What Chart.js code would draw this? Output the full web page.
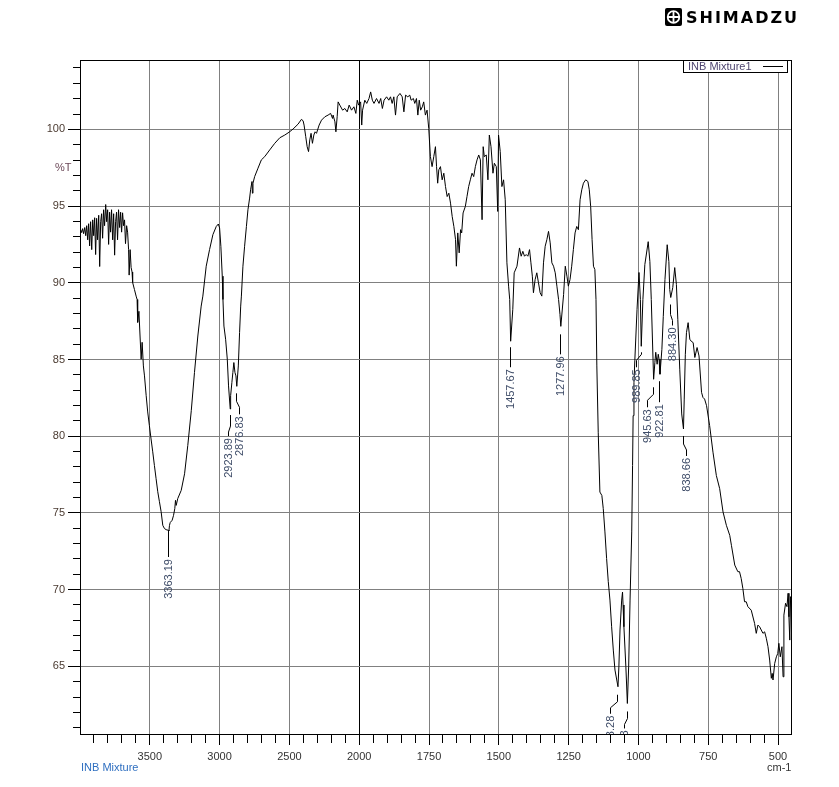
<!DOCTYPE html>
<html>
<head>
<meta charset="utf-8">
<script src="https://cdn.jsdelivr.net/npm/chart.js@4.4.0/dist/chart.umd.min.js"></script>
<style>
  body { margin: 0; background: #fff; width: 839px; height: 787px; position: relative; overflow: hidden; font-family: "Liberation Sans", Arial, sans-serif; }
  canvas { position: absolute; left: 0; top: 0; }
  .t { position: absolute; font-size: 11px; line-height: 13px; white-space: nowrap; }
  #brand { position: absolute; left: 686px; top: 10px; font: bold 16px/16px "DejaVu Sans", sans-serif; letter-spacing: 2px; color: #000; }
  #mark { position: absolute; left: 665px; top: 8px; }
</style>
</head>
<body>
<canvas id="ir" width="839" height="787"></canvas>
<svg id="mark" width="17" height="18" viewBox="0 0 17 18">
  <rect x="0" y="0" width="17" height="18" rx="2" fill="#000"/>
  <circle cx="8.5" cy="9" r="5.8" fill="none" stroke="#fff" stroke-width="1.8"/>
  <path d="M8.5 3.2v11.6M2.7 9h11.6" stroke="#fff" stroke-width="1.8"/>
</svg>
<div id="brand">SHIMADZU</div>
<div class="t" style="left:55px;top:161px;color:#6d4a5a">%T</div>
<div class="t" style="left:81px;top:761px;color:#2f6fc0">INB Mixture</div>
<div class="t" style="left:767px;top:761px;color:#333">cm-1</div>
<script>
// spectrum (cm-1 / %T)
const wavenumbers = [
  4000,3995,3988,3981,3974,3966,3959,3952,3945,3938,3931,3924,3916,3909,3902,3895,3888,3881,3874,3866,
  3859,3852,3845,3838,3831,3824,3816,3809,3802,3795,3788,3781,3774,3766,3759,3752,3745,3738,3731,3724,
  3716,3709,3702,3695,3688,3681,3674,3666,3659,3652,3648,3641,3634,3627,
  3623,3610,3598,3591,3587,3578,3570,3562,3555,3546,3538,3526,3515,3503,3491,3479,3467,3455,3443,3431,
  3419,3407,3395,3383,3369,3363.19,3359,3354,3340,3330,3321,3316,3311,3300,3275,3251,3228,3203,3180,3156,
  3132,3120,3096,3072,3048,3024,3009,3000,2991,2981,2976,2969,2957,2945,2936,2923.89,2921,2912,2905,2898,
  2890,2883,2876.83,2866,2857,2849,2844,2833,2821,2808,2797,2785,2778,2768,2765,2761,2749,2725,2701,2677,
  2641,2605,2569,2533,2503,2474,2438,2414,2402,2395,2383,2373,2363,2354,2345,2335,2325,2316,2306,2287,
  2270,2246,2223,2205,2191,2187,2174,2167,2158,2151,2139,2119,2103,2086,2072,2055,2038,2024,2014,2004,
  1995,1991,1988,1980,1973,1965,1959,1953,1947,1938,1929,1923,1917,1911,1902,1894,1888,1882,1876,1870,
  1864,1854,1846,1840,1834,1826,1819,1814,1806,1801,1795,1790,1785,1780,1774,1769,1763,1757,1751,1745,
  1739,1733,1727,1723,1719,1715,1709,1703,1697,1691,1685,1679,1673,1667,1661,1655,1652,1647,1642,1637,
  1633,1628,1620,1614,1608,1602,1596,1590,1584,1578,1572,1566,1560,1556,1552,1545,1539,1534,1528,1521,
  1516,1509,1504,1501,1495,1489,1483,1477,1471,1465,1461,1457.67,1450,1445,1435,1426,1420,1414,1408,1402,
  1396,1390,1385,1380,1376,1370,1364,1358,1352,1346,1340,1334,1328,1322,1316,1310,1304,1298,1292,1286,
  1281,1277.96,1268,1262,1256,1251,1245,1239,1233,1227,1221,1215,1209,1203,1197,1189,1181,1176,1171,1166,
  1161,1156,1152,1149,1144,1138,1131,1126,1120,1114,1108,1102,1096,1090,1084,1073.28,1070,1066,1060,1057,
  1055,1052,1045,1039.63,1035,1030,1024,1021,1019,1016,1013,1005,998,993,989.85,984,977,965,959,954,
  945.63,941,938,933,929,926,922.81,916,911,905,897,891,888,884.30,877,870,864,859,852,845,
  838.66,836,832,828,822,816,811,804,798,790,783,774,769,763,756,745,733,721,709,697,
  685,673,667,655,644,638,632,626,620,614,608,596,584,578,572,566,554,548,542,536,
  530,524,521,518,512,506,501,497,492,486,482,479,473,468,464,461,458,455,451
];
const transmittance = [
  93.33,93.46,93.27,93.53,93.2,93.6,93.07,93.72,92.8,93.85,92.4,93.98,92.16,94.1,93.07,94.24,91.84,94.2,92.8,94.4,
  91.06,93.98,94.5,92.9,94.76,93.72,95.1,93.98,94.76,92.5,94.6,93.3,94.76,92.8,94.5,91.8,93.98,94.6,92.8,94.76,
  93.6,94.6,93.3,94.56,93.72,94.1,92.55,93.72,93.3,92.16,90.5,92.16,91.0,90.7,
  90.02,89.56,89.13,88.91,87.42,88.14,86.53,85.02,86.12,84.58,83.93,82.64,81.58,80.69,79.82,78.98,78.09,77.23,76.38,75.73,
  75.08,74.19,73.98,73.91,73.87,73.82,74.19,74.37,74.52,74.84,75.28,75.82,75.49,75.93,76.47,77.55,79.39,81.66,84.15,86.53,
  88.48,89.13,91.08,92.16,93.14,93.67,93.83,93.57,92.38,90.43,88.91,87.18,86.32,85.02,83.28,81.77,82.64,83.51,84.15,84.80,
  84.15,83.93,83.25,84.58,86.75,88.48,89.13,91.08,92.38,93.67,94.76,95.52,96.06,96.60,95.84,96.49,96.92,97.47,98.01,98.22,
  98.66,99.09,99.45,99.63,99.81,100.02,100.34,100.65,100.56,100.28,99.52,98.87,98.55,99.31,99.74,99.09,99.63,99.84,99.74,100.28,
  100.60,100.82,100.93,101.04,100.71,100.93,100.49,99.84,100.82,101.79,101.58,101.25,101.36,101.14,101.58,101.25,101.47,101.04,101.90,101.58,
  101.79,100.28,101.25,101.90,101.69,102.01,102.44,101.90,101.69,102.01,101.69,102.01,101.36,101.90,102.12,101.90,102.12,101.69,102.12,100.93,
  102.12,102.34,102.12,101.14,102.23,102.12,102.23,101.90,102.01,101.69,102.01,100.93,101.90,101.25,101.47,101.79,100.93,101.25,100.06,98.22,
  97.57,98.22,98.87,97.57,96.49,97.36,97.57,96.71,97.14,96.27,95.62,95.84,95.19,94.32,93.67,92.81,91.08,93.25,91.95,93.46,
  93.25,94.55,94.97,95.62,96.27,96.71,97.14,96.92,97.57,98.01,98.33,98.01,94.11,98.87,98.22,98.33,96.71,99.63,98.87,97.14,
  97.79,97.57,94.65,99.63,98.55,96.27,96.71,95.41,91.30,89.78,88.91,86.19,88.27,90.65,91.08,92.27,91.73,92.05,91.73,91.84,
  91.73,92.16,91.30,90.43,89.35,90.21,90.65,90.00,89.35,89.13,91.30,92.38,92.81,93.35,92.60,91.30,91.08,90.65,89.78,88.91,
  87.94,87.16,89.24,91.08,90.43,89.78,90.21,91.08,92.16,93.25,93.67,93.46,95.41,96.06,96.49,96.71,96.60,96.06,94.97,92.81,
  91.08,90.86,88.91,84.58,80.26,76.36,76.14,75.28,73.76,72.03,70.52,69.32,67.58,66.06,64.76,63.67,64.97,67.37,69.32,69.84,
  69.0,67.58,64.97,62.58,64.97,69.32,73.76,78.09,81.34,83.51,84.91,88.27,90.67,88.91,85.86,88.91,91.19,92.68,91.38,88.91,
  83.71,84.82,85.47,84.69,85.34,85.02,84.04,85.66,87.81,90.21,92.48,91.38,89.56,89.04,89.69,90.99,89.89,87.62,84.37,81.45,
  80.47,82.42,85.34,86.75,87.40,86.32,86.19,86.10,85.13,85.78,85.23,82.86,82.53,82.42,81.99,80.69,78.96,77.44,76.58,75.06,
  74.19,73.54,72.89,71.60,71.17,71.17,70.73,70.08,69.21,69.21,68.89,68.66,67.80,67.15,67.69,67.58,67.15,67.25,66.83,66.28,
  65.41,64.22,64.54,64.11,65.19,65.62,65.84,66.50,65.62,66.28,64.32,68.34,69.11,68.89,69.76,68.23,66.71,69.54,69.32
];

// labelled peaks
const peakWn = [3363.19, 2923.89, 2876.83, 1457.67, 1277.96, 1073.28, 1039.63, 989.85, 945.63, 922.81, 884.30, 838.66];
const peakT  = [73.82, 81.77, 83.25, 86.19, 87.16, 63.67, 62.58, 85.86, 83.71, 84.04, 89.04, 80.47];

const xTickLabels = [3500, 3000, 2500, 2000, 1750, 1500, 1250, 1000, 750, 500];
const yTickLabels = [65, 70, 75, 80, 85, 90, 95, 100];

// leader line shapes for the peak labels: [gap, knee, dx, end] in px
const leaders = [
  [0, 26, 0, 26], [6, 17, -2, 27], [7, 15, 3, 28], [6, 26, 0, 26],
  [8, 28, 0, 28], [8, 15, -7, 27], [8, 15, -3, 25], [6, 8, -5, 21],
  [8, 15, -6, 28], [7, 28, 0, 28], [7, 17, 2, 28], [7, 15, 3, 27]
];

// the instrument halves the scale above 2000 cm-1
function toAxis(w) { return w > 2000 ? 2000 + (w - 2000) / 2 : w; }
function fromAxis(u) { return u > 2000 ? 2000 + (u - 2000) * 2 : u; }
function al(p) { return Math.round(p - 0.5) + 0.5; }

Chart.defaults.font.family = '"Liberation Sans", Arial, sans-serif';
Chart.defaults.font.size = 11;

const irDecor = {
  id: 'irDecor',
  afterDatasetsDraw(chart) {
    const { ctx, chartArea: a, scales: { x, y } } = chart;
    ctx.save();
    ctx.strokeStyle = '#000';
    ctx.lineWidth = 1;

    // tick marks
    ctx.beginPath();
    for (let v = Math.ceil(y.min); v <= y.max; v++) {
      const py = al(y.getPixelForValue(v));
      const len = v % 5 === 0 ? 12 : 7;
      ctx.moveTo(a.left - len, py);
      ctx.lineTo(a.left, py);
    }
    x.ticks.forEach(t => {
      if (t.value <= x.min || t.value >= x.max) return;
      const px = al(x.getPixelForValue(t.value));
      const len = t.value % 250 === 0 ? 11 : 9;
      ctx.moveTo(px, a.bottom);
      ctx.lineTo(px, a.bottom + len);
    });
    ctx.stroke();

    // frame
    ctx.strokeRect(a.left + 0.5, a.top + 0.5, a.right - a.left - 1, a.bottom - a.top);

    // peak labels
    ctx.save();
    ctx.beginPath();
    ctx.rect(a.left, a.top, a.right - a.left, a.bottom - a.top);
    ctx.clip();
    ctx.font = '11px "Liberation Sans", Arial, sans-serif';
    peakWn.forEach((w, i) => {
      const px = x.getPixelForValue(toAxis(w));
      const py = y.getPixelForValue(peakT[i]);
      const [gap, knee, dx, end] = leaders[i];
      const lx = al(px), tx = al(px + dx);
      ctx.beginPath();
      ctx.moveTo(lx, py + gap);
      ctx.lineTo(lx, py + knee);
      if (dx) ctx.lineTo(tx, py + knee + 6);
      ctx.lineTo(tx, py + end);
      ctx.stroke();
      ctx.save();
      ctx.translate(tx, py + end + 2);
      ctx.rotate(-Math.PI / 2);
      ctx.textAlign = 'right';
      ctx.textBaseline = 'middle';
      ctx.fillStyle = '#3e4c68';
      ctx.fillText(w.toFixed(2), 0, 0);
      ctx.restore();
    });
    ctx.restore();

    // legend box
    const lx0 = a.right - 109;
    ctx.fillStyle = '#fff';
    ctx.fillRect(lx0, a.top, 104, 12);
    ctx.strokeRect(lx0 + 0.5, a.top + 0.5, 104, 12);
    ctx.fillStyle = '#4f4670';
    ctx.textAlign = 'left';
    ctx.textBaseline = 'middle';
    ctx.fillText(chart.data.datasets[0].label, lx0 + 5, a.top + 7);
    ctx.beginPath();
    ctx.moveTo(lx0 + 80, a.top + 6.5);
    ctx.lineTo(lx0 + 100, a.top + 6.5);
    ctx.stroke();
    ctx.restore();
  }
};

new Chart(document.getElementById('ir'), {
  type: 'line',
  data: {
    datasets: [{
      label: 'INB Mixture1',
      data: wavenumbers.map((w, i) => ({ x: toAxis(w), y: transmittance[i] })),
      borderColor: '#000',
      borderWidth: 1,
      pointRadius: 0,
      tension: 0,
      fill: false
    }]
  },
  options: {
    responsive: false,
    animation: false,
    devicePixelRatio: 1,
    layout: { padding: { left: 0, top: 60, right: 47, bottom: 0 } },
    plugins: { legend: { display: false }, tooltip: { enabled: false } },
    scales: {
      x: {
        type: 'linear',
        reverse: true,
        min: 450,
        max: 3000,
        afterFit(s) { s.height = 53; },
        border: { display: false },
        grid: {
          drawTicks: false,
          lineWidth: 1,
          color: c => {
            const u = c.tick.value;
            if (u <= 450 || u >= 3000 || u % 250 !== 0) return 'rgba(0,0,0,0)';
            return u === 2000 ? '#000' : '#808080';
          }
        },
        ticks: {
          stepSize: 50,
          autoSkip: false,
          maxRotation: 0,
          padding: 16,
          color: '#333',
          callback: v => xTickLabels.includes(fromAxis(v)) && v % 250 === 0 ? String(fromAxis(v)) : ''
        }
      },
      y: {
        min: 60.59,
        max: 104.52,
        afterFit(s) { s.width = 80; },
        border: { display: false },
        grid: {
          drawTicks: false,
          lineWidth: 1,
          color: c => yTickLabels.includes(c.tick.value) ? '#808080' : 'rgba(0,0,0,0)'
        },
        ticks: {
          stepSize: 1,
          autoSkip: false,
          padding: 15,
          color: '#4a3a30',
          callback: v => yTickLabels.includes(v) ? String(v) : ''
        }
      }
    }
  },
  plugins: [irDecor]
});
</script>
</body>
</html>
